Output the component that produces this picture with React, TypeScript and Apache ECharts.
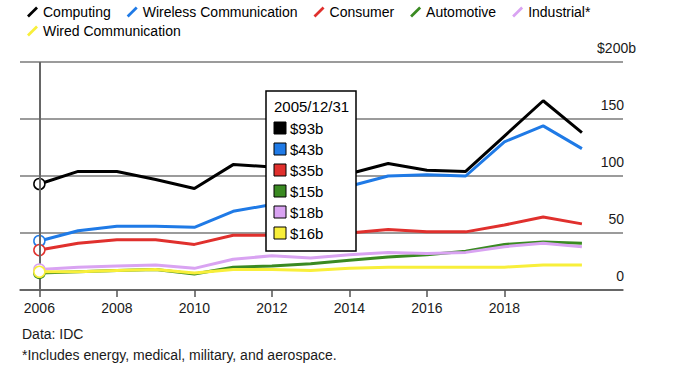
import React, { useEffect, useRef } from "react";
import * as echarts from "echarts";

const FONT = "'Liberation Sans', Arial, Helvetica, sans-serif";

// x positions: each point is the year-end date shown in the tooltip (2005/12/31 -> 2006)
const years = [2006, 2007, 2008, 2009, 2010, 2011, 2012, 2013, 2014, 2015, 2016, 2017, 2018, 2019, 2020];
const tickYears = [2006, 2008, 2010, 2012, 2014, 2016, 2018];

const seriesNames = ["Computing", "Wireless Communication", "Consumer", "Automotive", "Industrial*", "Wired Communication"];
const seriesColors = ["#000000", "#1f7ae6", "#e0302d", "#3a8a22", "#d9a3f2", "#f8ef3a"];

const computing = [93, 104, 104, 97, 89, 110, 108, 104, 102, 111, 105, 104, 135, 166, 138];
const wireless = [43, 52, 56, 56, 55, 69, 75, 83, 91, 100, 101, 100, 130, 144, 124];
const consumer = [35, 41, 44, 44, 40, 48, 48, 48, 50, 53, 51, 51, 57, 64, 58];
const automotive = [15, 16, 17, 18, 14, 20, 21, 23, 26, 29, 31, 34, 40, 42, 41];
const industrial = [18, 20, 21, 22, 19, 27, 30, 28, 31, 33, 32, 33, 38, 41, 38];
const wired = [16, 16, 17, 18, 15, 18, 18, 17, 19, 20, 20, 20, 20, 22, 22];

const seriesValues = [computing, wireless, consumer, automotive, industrial, wired];

const yTicks = [0, 50, 100, 150, 200];

const sourceNote = "Data: IDC";
const footNote = "*Includes energy, medical, military, and aerospace.";

const legendIcon = "path://M0,9.5 L9.5,0 L11.5,2 L2,11.5 Z";

function dateLabel(y: number) {
  return `${y - 1}/12/31`;
}

export default function App() {
  const ref = useRef<HTMLDivElement>(null);

  useEffect(() => {
    if (!ref.current) return;
    const chart = echarts.init(ref.current, null, { renderer: "svg" });

    const series = seriesNames.map((name, si) => ({
      name,
      type: "line",
      symbol: "none",
      color: seriesColors[si],
      lineStyle: { width: 3, color: seriesColors[si] },
      z: 2 + si,
      data: seriesValues[si].map((v, i) =>
        i === 0
          ? {
              value: [years[i], v],
              symbol: "circle",
              symbolSize: 11,
              itemStyle: { color: "#ffffff", borderColor: seriesColors[si], borderWidth: 1.5 },
            }
          : { value: [years[i], v] }
      ),
      ...(si === 0
        ? {
            markLine: {
              silent: true,
              symbol: ["none", "none"],
              label: { show: false },
              lineStyle: { color: "#666666", width: 2, type: "solid" },
              data: [{ xAxis: years[0] }],
            },
          }
        : {}),
    }));

    const tipIndex = 0;
    const Z = 100;
    const tipRows = seriesNames.map((_, si) => [
      {
        type: "rect",
        z: Z,
        shape: { x: 8, y: 37 + 21 * si - 6, width: 12, height: 12 },
        style: { fill: seriesColors[si], stroke: "#000", lineWidth: 1 },
      },
      {
        type: "text",
        z: Z,
        x: 24,
        y: 37 + 21 * si,
        style: {
          text: `$${seriesValues[si][tipIndex]}b`,
          font: `15px ${FONT}`,
          fill: "#000",
          verticalAlign: "middle",
        },
      },
    ]).flat();

    const legendBase = {
      left: 22,
      icon: legendIcon,
      itemWidth: 11,
      itemHeight: 11,
      itemGap: 16,
      selectedMode: false,
      textStyle: { fontSize: 14, color: "#000", fontFamily: FONT },
    };

    const option: any = {
      animation: false,
      textStyle: { fontFamily: FONT },
      grid: { left: 20, right: 59, top: 62, bottom: 101, containLabel: false },
      legend: [
        { ...legendBase, top: 0, data: seriesNames.slice(0, 5) },
        { ...legendBase, top: 19, data: seriesNames.slice(5) },
      ],
      xAxis: {
        type: "value",
        min: 2005.5,
        max: 2021.06,
        splitLine: { show: false },
        axisLine: { show: true, lineStyle: { color: "#555", width: 1.5 } },
        axisTick: { show: true, customValues: tickYears, length: 7, lineStyle: { color: "#555", width: 1.5 } },
        axisLabel: {
          customValues: tickYears,
          formatter: (v: number) => String(v),
          color: "#1a1a1a",
          fontSize: 14,
          fontFamily: FONT,
          margin: 11,
        },
      },
      yAxis: [
        {
          type: "value",
          min: 0,
          max: 200,
          interval: 50,
          position: "right",
          axisLine: { show: false },
          axisTick: { show: false },
          splitLine: { show: true, lineStyle: { color: "#7a7a7a", width: 1.5 } },
          axisLabel: {
            inside: true,
            margin: -1,
            align: "right",
            verticalAlign: "bottom",
            padding: [0, 0, 7, 0],
            color: "#1a1a1a",
            fontSize: 14,
            fontFamily: FONT,
            formatter: (v: number) => (v === yTicks[yTicks.length - 1] ? "" : String(v)),
          },
        },
        {
          type: "value",
          min: 0,
          max: 200,
          interval: 50,
          position: "right",
          axisLine: { show: false },
          axisTick: { show: false },
          splitLine: { show: false },
          axisLabel: {
            inside: true,
            margin: -13,
            align: "right",
            verticalAlign: "bottom",
            padding: [0, 0, 7, 0],
            color: "#1a1a1a",
            fontSize: 14,
            fontFamily: FONT,
            formatter: (v: number) => (v === yTicks[yTicks.length - 1] ? `$${v}b` : ""),
          },
        },
      ],
      series,
      graphic: [
        {
          type: "group",
          x: 266,
          y: 91,
          z: Z,
          children: [
            {
              type: "rect",
              z: Z,
              shape: { x: 0, y: 0, width: 90, height: 160 },
              style: { fill: "#fff", stroke: "#000", lineWidth: 1.5 },
            },
            {
              type: "text",
              z: Z,
              x: 8,
              y: 15,
              style: {
                text: dateLabel(years[tipIndex]),
                font: `15px ${FONT}`,
                fill: "#000",
                verticalAlign: "middle",
              },
            },
            ...tipRows,
          ],
        },
        {
          type: "text",
          x: 22,
          y: 334,
          style: { text: sourceNote, font: `14px ${FONT}`, fill: "#1a1a1a", verticalAlign: "middle" },
        },
        {
          type: "text",
          x: 22,
          y: 355,
          style: { text: footNote, font: `14px ${FONT}`, fill: "#1a1a1a", verticalAlign: "middle" },
        },
      ],
    };

    chart.setOption(option);
    return () => chart.dispose();
  }, []);

  return (
    <div
      ref={ref}
      style={{ position: "fixed", left: 0, top: 0, width: 682, height: 391, background: "#fff" }}
    />
  );
}
